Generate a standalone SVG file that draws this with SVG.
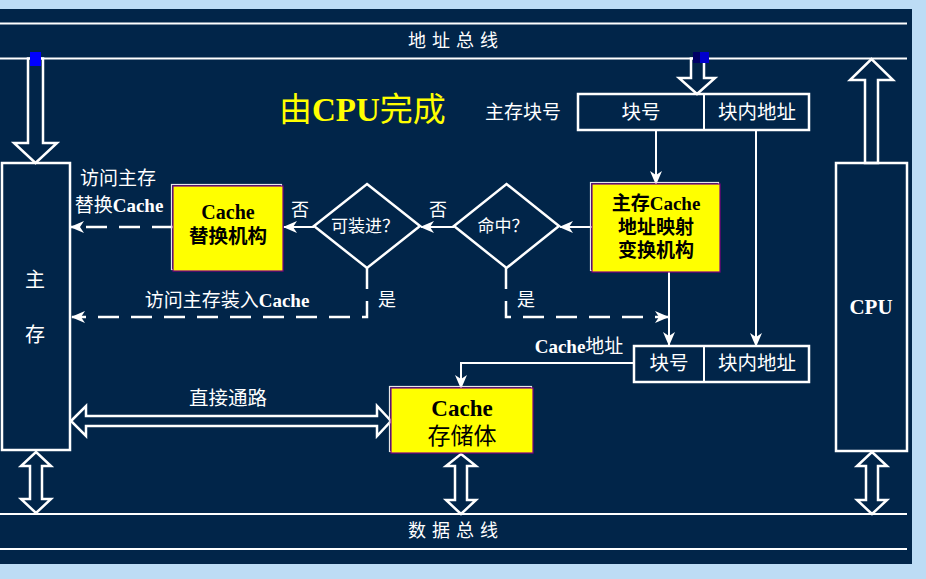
<svg xmlns="http://www.w3.org/2000/svg" width="926" height="579" viewBox="0 0 926 579">
<defs>
<marker id="ah" markerUnits="userSpaceOnUse" markerWidth="14" markerHeight="12" viewBox="0 0 14 12" refX="13" refY="6" orient="auto">
<path d="M0,0 L14,6 L0,12 L4,6 Z" fill="#ffffff"/>
</marker>
</defs>
<style>
.t{font-family:"Liberation Serif","Noto Sans CJK SC",serif;fill:#ffffff;text-anchor:middle;dominant-baseline:central}
.b{font-weight:bold}
.k{fill:#000000}
.ln{stroke:#ffffff;stroke-width:2;fill:none}
.ds{stroke:#ffffff;stroke-width:2.5;fill:none;stroke-dasharray:21 12}
.hol{stroke:#ffffff;stroke-width:2.5;fill:#012549;stroke-linejoin:miter}
.box{stroke:#ffffff;stroke-width:2.5;fill:none}
.yb{fill:#ffff00;stroke:#800080;stroke-width:1.2}
.sh{fill:none;stroke:#e8e8e8;stroke-width:1.2}
</style>
<rect x="0" y="0" width="926" height="579" fill="#bddcf5"/>
<rect x="0" y="9" width="912" height="555" fill="#012549"/>

<g id="buses">
<line x1="0" y1="23.5" x2="907" y2="23.5" class="ln"/>
<line x1="0" y1="58.5" x2="907" y2="58.5" class="ln"/>
<line x1="0" y1="514" x2="907" y2="514" class="ln"/>
<line x1="0" y1="549" x2="907" y2="549" class="ln"/>
<text x="456" y="41" class="t" font-size="18" letter-spacing="6">地址总线</text>
<text x="456" y="531" class="t" font-size="18" letter-spacing="6">数据总线</text>
</g>

<g id="title">
<text x="279" y="110" class="t" font-size="33" style="fill:#ffff00;text-anchor:start">由<tspan class="b">CPU</tspan>完成</text>
</g>

<g id="connectors">
<polygon class="hol" points="28,58.5 43,58.5 43,143 57,143 35.5,163 14,143 28,143"/>
<rect x="30" y="52" width="11" height="14" fill="#0000ff"/>
<polygon class="hol" points="691,58.5 704,58.5 704,78 715,78 697,94 679,78 691,78"/>
<rect x="693" y="52" width="7" height="11" fill="#000066"/>
<rect x="700" y="52" width="9" height="11" fill="#0000cc"/>
<polygon class="hol" points="865,163 865,80 850,80 871.5,59 893,80 878,80 878,163"/>
<polygon class="hol" points="36,452 51,466 42,466 42,499 51,499 36,513 21,499 30,499 30,466 21,466"/>
<polygon class="hol" points="461,454 476,466 467,466 467,500 476,500 461,514 446,500 455,500 455,466 446,466"/>
<polygon class="hol" points="872,452 887,466 878,466 878,500 887,500 872,514 857,500 866,500 866,466 857,466"/>
<polygon class="hol" points="71,421 86,406 86,416 377,416 377,406 391,421 377,436 377,426 86,426 86,436"/>
<line x1="656" y1="130" x2="656" y2="184" class="ln" marker-end="url(#ah)"/>
<line x1="756" y1="130" x2="756" y2="346" class="ln" marker-end="url(#ah)"/>
<line x1="592" y1="227" x2="560" y2="227" class="ln" stroke-width="2.5" marker-end="url(#ah)"/>
<line x1="454" y1="227" x2="421" y2="227" class="ln" stroke-width="2.5" marker-end="url(#ah)"/>
<line x1="314" y1="227" x2="284" y2="227" class="ln" stroke-width="2.5" marker-end="url(#ah)"/>
<line x1="173" y1="227" x2="71" y2="227" class="ds" marker-end="url(#ah)"/>
<path d="M367,268 V317 H72" class="ds" marker-end="url(#ah)"/>
<path d="M506,268 V317 H668" class="ds" marker-end="url(#ah)"/>
<line x1="669" y1="272" x2="669" y2="345" class="ln" stroke-width="2.5" marker-end="url(#ah)"/>
<path d="M634,363 H461 V388" class="ln" stroke-width="2.5" marker-end="url(#ah)"/>
<text x="118" y="178" class="t" font-size="19">访问主存</text>
<text x="119" y="205" class="t" font-size="19">替换<tspan class="b">Cache</tspan></text>
<text x="227" y="300" class="t" font-size="19">访问主存装入<tspan class="b">Cache</tspan></text>
<text x="438" y="210" class="t" font-size="18">否</text>
<text x="300" y="210" class="t" font-size="18">否</text>
<text x="387" y="300" class="t" font-size="18">是</text>
<text x="526" y="300" class="t" font-size="18">是</text>
<text x="579" y="346" class="t" font-size="19"><tspan class="b">Cache</tspan>地址</text>
<text x="228" y="398" class="t" font-size="19.5">直接通路</text>
</g>

<g id="main-memory">
<rect x="2" y="163" width="68" height="287" class="box"/>
<text x="35" y="280" class="t" font-size="20">主</text>
<text x="35" y="335" class="t" font-size="20">存</text>
</g>

<g id="cpu">
<rect x="836" y="163" width="71" height="288" class="box"/>
<text x="871" y="307" class="t b" font-size="21">CPU</text>
</g>

<g id="block-addr-top">
<text x="523" y="112" class="t" font-size="19">主存块号</text>
<rect x="578" y="94" width="231" height="36" class="box"/>
<line x1="704" y1="94" x2="704" y2="130" class="ln" stroke-width="2.5"/>
<text x="641" y="112" class="t" font-size="19.5">块号</text>
<text x="757" y="112" class="t" font-size="19.5">块内地址</text>
</g>

<g id="block-addr-cache">
<rect x="634" y="346" width="175" height="36" class="box"/>
<line x1="704" y1="346" x2="704" y2="382" class="ln" stroke-width="2.5"/>
<text x="669" y="363" class="t" font-size="19.5">块号</text>
<text x="757" y="363" class="t" font-size="19.5">块内地址</text>
</g>

<g id="mapping">
<rect x="590.5" y="182.5" width="128" height="88" class="sh"/>
<rect x="592" y="184" width="128" height="88" class="yb"/>
<text x="656" y="203" class="t k b" font-size="19">主存Cache</text>
<text x="656" y="227" class="t k b" font-size="19">地址映射</text>
<text x="656" y="250" class="t k b" font-size="19">变换机构</text>
</g>

<g id="hit">
<polygon points="506.5,184 559,226 506.5,268 454,226" class="box"/>
<text x="503" y="226" class="t" font-size="17">命中？</text>
</g>

<g id="can-load">
<polygon points="367,184 420,226 367,268 314,226" class="box"/>
<text x="365" y="226" class="t" font-size="17">可装进？</text>
</g>

<g id="replace">
<rect x="171.5" y="184.5" width="110" height="85" class="sh"/>
<rect x="173" y="186" width="110" height="85" class="yb"/>
<text x="228" y="212" class="t k b" font-size="20">Cache</text>
<text x="228" y="236" class="t k b" font-size="19.5">替换机构</text>
</g>

<g id="cache-store">
<rect x="389.5" y="386.5" width="142" height="65" class="sh"/>
<rect x="391" y="388" width="142" height="65" class="yb"/>
<text x="462" y="408" class="t k b" font-size="23">Cache</text>
<text x="462" y="436" class="t k" font-size="23">存储体</text>
</g>
</svg>
